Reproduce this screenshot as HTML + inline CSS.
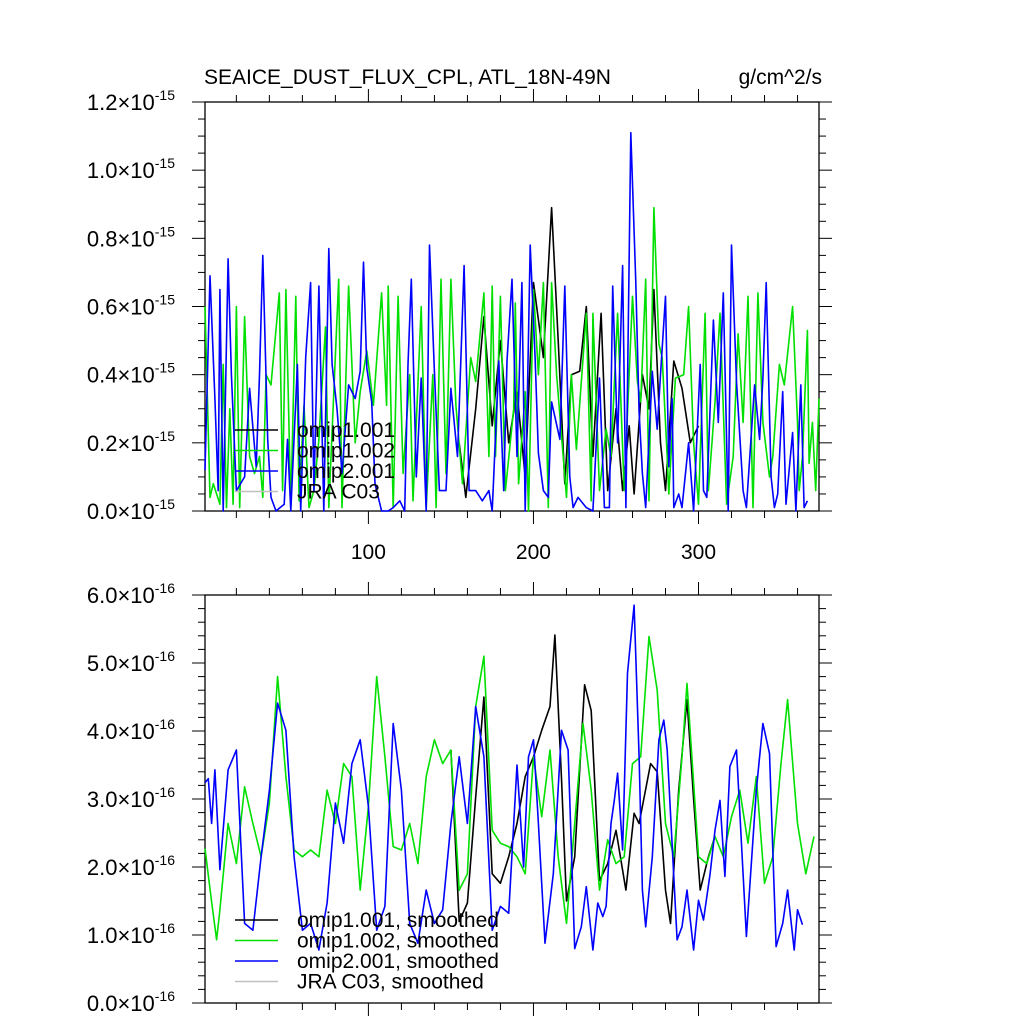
<!DOCTYPE html>
<html><head><meta charset="utf-8"><style>
body{margin:0;background:#fff;}
svg{display:block;font-family:"Liberation Sans",sans-serif;}
</style></head><body>
<svg id="chart" width="1024" height="1024" xmlns="http://www.w3.org/2000/svg"></svg>
<script>
// ---- data (values in units of 1e-15 for top panel, 1e-16 for bottom panel) ----
const blueTopDays=[1,4,7,9,10,12,15,17,20,25,28,32,34,36,39,41,44,49,51,53,57,59,62,65,67,70,73,76,78,81,84,88,92,95,97,99,102,104,108,112,115,119,122,124,126,129,132,135,137,140,143,147,150,154,158,161,165,169,173,175,179,182,184,187,190,193,195,198,201,203,206,209,211,216,219,222,224,227,232,236,240,243,246,248,251,254,256,259,262,264,266,268,272,275,277,280,282,284,285,288,290,294,297,301,303,305,309,312,315,318,320,323,327,329,334,337,339,341,344,346,348,351,353,357,359,362,364,366];
const blueTopVals=[0.12,0.69,0.33,0.06,0.65,0,0.74,0.4,0.06,0.1,0.36,0.13,0.4,0.75,0.21,0.04,0,0.02,0.21,0,0.43,0,0.45,0.67,0.06,0.66,0,0.77,0.43,0.3,0.11,0.37,0.33,0.41,0.73,0.42,0.32,0.08,0,0,0.01,0.03,0,0.43,0.68,0.1,0.39,0,0.78,0.41,0.06,0.06,0.36,0.16,0.72,0.06,0.06,0.03,0.06,0,0.44,0.06,0.44,0.68,0.16,0.67,0,0.78,0.45,0.17,0.06,0.04,0.32,0.21,0.66,0.1,0.01,0.04,0.01,0,0.39,0.01,0.01,0.66,0.2,0.72,0.01,1.11,0.67,0.29,0.11,0.01,0.41,0.24,0.4,0.63,0.13,0.33,0.01,0.05,0.01,0.2,0,0.43,0.06,0.04,0.56,0.26,0.64,0,0.78,0.38,0.06,0.01,0.37,0.21,0.39,0.67,0.1,0.01,0.05,0.35,0.02,0.23,0,0.37,0.01,0.03];
const greenTopDays=[1,4,6,10,12,14,16,18,20,22,25,28,31,34,36,38,41,46,48,50,53,56,58,61,64,67,70,74,76,82,84,88,92,95,99,103,108,111,112,115,118,121,125,127,132,135,139,141,144,147,150,153,157,162,165,170,173,175,177,180,183,188,189,191,195,197,200,203,206,209,211,214,220,223,226,232,235,236,240,244,247,251,255,260,263,265,268,270,273,276,278,281,282,286,291,294,297,300,304,306,310,313,317,321,324,327,330,333,336,339,343,345,349,352,357,360,361,363,366,367,369,371,373];
const greenTopVals=[0.6,0.04,0.08,0.02,0.43,0.01,0.3,0.02,0.6,0.01,0.57,0.16,0.11,0.16,0.04,0.4,0.37,0.64,0.06,0.65,0.01,0.63,0.03,0.31,0.01,0.06,0.21,0.54,0.01,0.68,0.01,0.66,0.2,0.35,0.47,0.31,0.64,0.31,0.66,0.01,0.63,0.11,0.4,0.03,0.6,0.01,0.4,0.01,0.68,0.11,0.68,0.31,0.08,0.45,0.38,0.64,0.16,0.66,0.16,0.63,0.06,0.3,0.61,0.08,0.35,0,0.65,0.4,0.67,0.01,0.67,0.4,0.04,0.4,0.18,0.58,0.03,0.58,0.06,0.24,0.16,0.58,0.06,0.63,0.38,0.32,0.68,0.03,0.89,0.49,0.45,0.16,0.05,0.39,0.4,0.6,0.2,0.02,0.58,0.06,0.32,0.58,0.02,0.16,0.52,0.26,0.63,0.01,0.64,0.26,0.1,0.16,0.43,0.37,0.6,0.26,0.06,0.16,0.53,0.14,0.26,0.06,0.33];
const blackTopDays=[155,159,165,170,175,180,185,190,195,200,206,211,215,219,223,228,232,236,241,245,250,254,258,261,266,270,273,277,280,285,290,295,300];
const blackTopVals=[0.2,0.04,0.3,0.57,0.25,0.5,0.2,0.35,0.1,0.67,0.45,0.89,0.5,0.08,0.4,0.41,0.6,0.16,0.58,0.06,0.3,0.06,0.25,0.05,0.4,0.3,0.65,0.2,0.06,0.44,0.36,0.2,0.25];
const greenBotDays=[1,5,8,10,15,20,25,30,35,40,45,50,55,60,65,70,75,80,85,90,95,100,105,110,115,120,125,130,135,140,145,150,155,160,165,170,175,180,185,190,195,200,205,210,215,220,225,230,235,240,245,250,255,260,265,270,275,280,285,290,293,300,305,310,315,320,325,330,335,340,345,350,354,360,365,370];
const greenBotVals=[2.27,1.49,0.93,1.37,2.64,2.05,3.18,2.64,2.15,2.94,4.8,3.33,2.25,2.15,2.25,2.15,3.13,2.64,3.52,3.33,1.66,2.89,4.8,3.62,2.3,2.25,2.64,2.05,3.33,3.87,3.52,3.72,1.66,1.9,4.36,5.1,2.54,2.35,2.3,2.15,1.9,3.62,2.74,3.72,2.15,1.17,2.64,4.11,3.13,1.66,2.4,2.05,2.15,3.52,3.62,5.39,4.6,2.64,2.15,3.62,4.7,2.15,2.05,2.45,2.15,2.74,3.13,2.35,3.33,1.76,2.15,3.52,4.46,2.64,1.9,2.45];
const blackBotDays=[150,155,160,165,170,175,180,185,190,195,200,205,210,213,217,220,225,231,235,240,245,250,256,261,264,271,275,280,283,288,293,297,301,306,310];
const blackBotVals=[3.72,1.2,1.47,3.03,4.5,1.9,1.76,2.15,2.64,3.33,3.62,4.01,4.36,5.41,3.3,1.5,2.15,4.68,4.3,1.8,2.05,2.54,1.66,2.79,2.64,3.52,3.4,1.66,1.17,3.13,4.46,3.0,1.66,2.15,2.45];
const blueBotDays=[1,3,5,7,10,15,20,25,30,35,40,45,50,55,60,65,70,75,80,85,90,95,100,105,110,115,120,125,130,135,140,145,150,155,160,165,170,175,180,185,190,194,197,200,203,207,212,217,221,225,229,232,236,239,242,244,247,249,251,254,257,261,264,266,268,272,276,279,281,287,290,293,297,300,303,307,310,313,316,319,323,329,335,339,343,347,351,354,358,360,363];
const blueBotVals=[3.24,3.3,2.64,3.43,1.96,3.43,3.72,1.17,1.07,2.15,3.13,4.41,4.01,2.15,1.07,1.17,0.78,1.47,2.94,2.35,3.52,3.87,2.89,1.07,1.42,4.11,3.13,1.17,0.88,1.66,1.17,1.37,2.64,3.62,2.64,4.36,3.62,1.07,1.42,1.32,3.5,2.0,3.62,3.87,2.64,0.88,1.9,4.01,3.72,0.8,1.12,1.71,0.78,1.47,1.27,1.42,2.64,2.98,3.38,2.25,4.85,5.85,3.62,1.66,1.12,2.15,3.87,4.16,3.72,0.93,1.12,1.66,0.78,1.51,1.22,1.9,2.54,2.98,1.86,3.48,3.72,0.98,3.13,4.11,3.67,0.83,1.17,1.66,0.78,1.37,1.15];
const yTicksTop=["0.0","0.2","0.4","0.6","0.8","1.0","1.2"];
const yTicksBot=["0.0","1.0","2.0","3.0","4.0","5.0","6.0"];
const xTickLabels=["100","200","300"];
const legendTop=["omip1.001","omip1.002","omip2.001","JRA C03"];
const legendBot=["omip1.001, smoothed","omip1.002, smoothed","omip2.001, smoothed","JRA C03, smoothed"];

// ---- layout ----
const NS="http://www.w3.org/2000/svg";
const svgEl=document.getElementById('chart');
const L=205,R=819,XMIN=1,XMAX=373;
const xs=d=>L+(d-XMIN)/(XMAX-XMIN)*(R-L);
function mk(tag,attrs,parent){const e=document.createElementNS(NS,tag);for(const k in attrs)e.setAttribute(k,attrs[k]);(parent||svgEl).appendChild(e);return e;}

function panel(pTop,pBot,ymax,ticks,minorStep,expo,name,showX){
  const g=mk('g',{});
  
  
  const ys=v=>pBot-v/ymax*(pBot-pTop);
  const fr=mk('rect',{x:L,y:pTop,width:R-L,height:pBot-pTop,fill:'none',stroke:'#000','stroke-width':1.3},g);
  
  
  const nMinor=Math.round(ymax/minorStep);
  for(let i=0;i<=nMinor;i++){
    const v=i*minorStep, y=ys(v);
    const q=v/(ymax/6);
    const major=Math.abs(q-Math.round(q))<1e-6;
    const len=major?13:7;
    mk('line',{x1:L-len,y1:y,x2:L,y2:y,stroke:'#000','stroke-width':1},g);
    mk('line',{x1:R,y1:y,x2:R+len,y2:y,stroke:'#000','stroke-width':1},g);
  }
  ticks.forEach((t,i)=>{
    const y=ys(i*ymax/6);
    const tx=mk('text',{x:175,y:y+8,'text-anchor':'end','font-size':22},g);
    
    
    tx.appendChild(document.createTextNode(t+'\u00d710'));
    const sp=mk('tspan',{dy:-10,'font-size':14},tx);
    sp.textContent=expo;
  });
  for(let d=20;d<=XMAX;d+=20){
    const x=xs(d),major=d%100===0,len=major?13:7;
    mk('line',{x1:x,y1:pTop-len,x2:x,y2:pTop,stroke:'#000','stroke-width':1},g);
    mk('line',{x1:x,y1:pBot,x2:x,y2:pBot+len,stroke:'#000','stroke-width':1},g);
  }
  if(showX){
    xTickLabels.forEach(t=>{
      const tx=mk('text',{x:xs(+t),y:pBot+48,'text-anchor':'middle','font-size':21},g);
      
      
      tx.textContent=t;
    });
  }
  return {g:g,ys:ys};
}
function series(p,days,vals,color,name){
  let d='';
  const n=Math.min(days.length,vals.length);
  for(let i=0;i<n;i++){d+=(i?'L':'M')+xs(days[i]).toFixed(1)+','+p.ys(vals[i]).toFixed(1);}
  const e=mk('path',{d:d,fill:'none',stroke:color,'stroke-width':1.6,'stroke-linejoin':'round'},p.g);
  
  
}
function legend(p,labels,y0,name){
  const cols=['#000','#00e000','#0000ff','#c0c0c0'];
  labels.forEach((t,i)=>{
    const y=y0+i*20.5;
    const ln=mk('line',{x1:235,y1:y,x2:278,y2:y,stroke:cols[i],'stroke-width':1.6},p.g);
    
    
    const tx=mk('text',{x:297,y:y+7,'font-size':21},p.g);
    
    
    tx.textContent=t;
  });
}
const t1=mk('text',{x:204,y:84,'font-size':21});


t1.textContent='SEAICE_DUST_FLUX_CPL, ATL_18N-49N';
const t2=mk('text',{x:822,y:84,'font-size':21,'text-anchor':'end'});


t2.textContent='g/cm^2/s';

const topP=panel(102,511,1.2,yTicksTop,0.05,'-15','top-panel',true);
series(topP,blackTopDays,blackTopVals,'#000','omip1-001-line');
series(topP,greenTopDays,greenTopVals,'#00e000','omip1-002-line');
series(topP,blueTopDays,blueTopVals,'#0000ff','omip2-001-line');
legend(topP,legendTop,430,'top-legend');

const botP=panel(595,1003,6,yTicksBot,0.2,'-16','bottom-panel',false);
series(botP,blackBotDays,blackBotVals,'#000','omip1-001-smoothed-line');
series(botP,greenBotDays,greenBotVals,'#00e000','omip1-002-smoothed-line');
series(botP,blueBotDays,blueBotVals,'#0000ff','omip2-001-smoothed-line');
legend(botP,legendBot,920,'bottom-legend');
</script>
</body></html>
